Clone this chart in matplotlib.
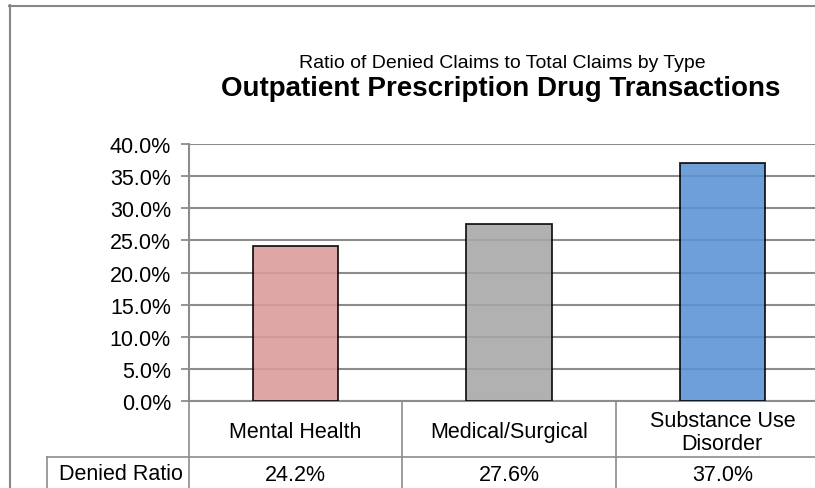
import matplotlib.pyplot as plt
from matplotlib.transforms import blended_transform_factory
from matplotlib.lines import Line2D

plt.rcParams['font.family'] = ['Liberation Sans', 'DejaVu Sans']

# Data
categories = ["Mental Health", "Medical/Surgical", "Substance Use\nDisorder"]
denied_ratio = [24.2, 27.6, 37.0]
row_label = "Denied Ratio"
yticks = [0, 5, 10, 15, 20, 25, 30, 35, 40]

colors = ["#DA9B9A", "#A7A7A7", "#5A92D4"]
grid_col = "#8C8C8C"

W, H = 815, 489
fig = plt.figure(figsize=(W / 100, H / 100), dpi=100)

def fx(px):
    return px / W

def fy(py):
    return 1 - py / H

# plot area: x 189..829 px, y 145..402 px
ax = fig.add_axes([fx(189), fy(402), (829 - 189) / W, (402 - 145) / H])
x = list(range(len(categories)))
ax.bar(x, denied_ratio, width=0.4, color=colors, alpha=0.88,
       edgecolor="black", linewidth=1.3, zorder=3)
ax.set_xlim(-0.5, len(categories) - 0.5)
ax.set_ylim(0, 40)
ax.set_yticks(yticks)
ax.set_yticklabels([f"{v:.1f}%" for v in yticks], fontsize=15.5)
ax.set_xticks([])
ax.yaxis.grid(True, color=grid_col, linewidth=1.5, zorder=0)
ax.set_axisbelow(True)
ax.tick_params(axis="y", length=6, width=1.3, color=grid_col, pad=7)
for s in ["top", "right"]:
    ax.spines[s].set_visible(False)
for s in ["left", "bottom"]:
    ax.spines[s].set_color(grid_col)
    ax.spines[s].set_linewidth(1.5)

# titles
fig.text(fx(502), fy(67.5), "Ratio of Denied Claims to Total Claims by Type",
         ha="center", va="baseline", fontsize=14)
fig.text(fx(501), fy(95.5), "Outpatient Prescription Drug Transactions",
         ha="center", va="baseline", fontsize=20, fontweight="bold")

# data table under the axis
tr = blended_transform_factory(ax.transData, fig.transFigure)
for i in range(len(categories) + 1):
    fig.add_artist(Line2D([i - 0.5, i - 0.5], [fy(402), 0], transform=tr,
                          color=grid_col, linewidth=1.2))
fig.add_artist(Line2D([fx(47), 1], [fy(458), fy(458)], transform=fig.transFigure,
                      color=grid_col, linewidth=1.2))
fig.add_artist(Line2D([fx(47), fx(47)], [fy(458), 0], transform=fig.transFigure,
                      color=grid_col, linewidth=1.2))
for i, (cat, v) in enumerate(zip(categories, denied_ratio)):
    lines = cat.split("\n")
    n = len(lines)
    for j, line in enumerate(lines):
        base = 438.3 + (j - (n - 1) / 2) * 23.3
        fig.text(i, fy(base), line, transform=tr, ha="center", va="baseline",
                 fontsize=15.5)
    fig.text(i, fy(481.5), f"{v:.1f}%", transform=tr, ha="center", va="baseline",
             fontsize=15.5)
fig.text(fx(120.5), fy(480), row_label, ha="center", va="baseline", fontsize=15.5)

# outer chart border (top and left visible)
fig.add_artist(Line2D([fx(9), 1], [fy(6.5), fy(6.5)], transform=fig.transFigure,
                      color="#888888", linewidth=1.5))
fig.add_artist(Line2D([fx(9.5), fx(9.5)], [fy(6), 0], transform=fig.transFigure,
                      color="#888888", linewidth=1.5))

fig.savefig("out.png", dpi=100)
